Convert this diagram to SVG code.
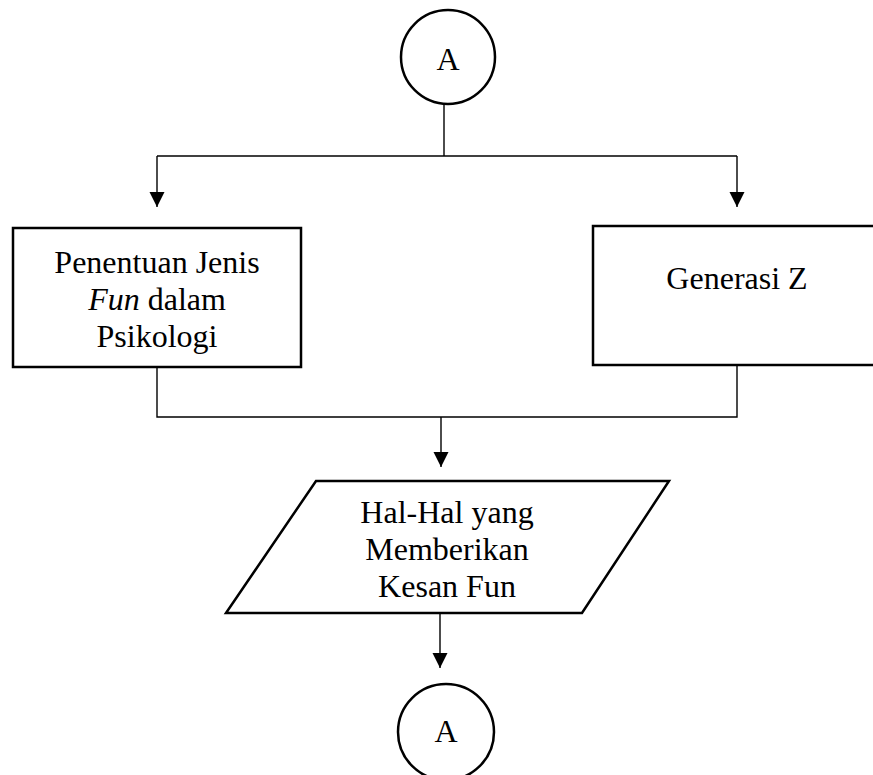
<svg xmlns="http://www.w3.org/2000/svg" width="873" height="775" viewBox="0 0 873 775">
<style>
.shape{fill:#fff;stroke:#000;stroke-width:2.5}
.conn{fill:none;stroke:#000;stroke-width:1.4}
text{font-family:"Liberation Serif","Times New Roman",serif;font-size:32px;fill:#000;text-anchor:middle}
</style>
<defs>
<marker id="arr" markerUnits="userSpaceOnUse" markerWidth="16" markerHeight="16" viewBox="0 0 16 16" refX="15" refY="8" orient="auto">
<path d="M0,0.5 L15,8 L0,15.5 Z" fill="#000"/>
</marker>
</defs>
<g id="connectors">
<path class="conn" d="M444,104 V156"/>
<path class="conn" d="M157,156 H737"/>
<path class="conn" d="M157,156 V207" marker-end="url(#arr)"/>
<path class="conn" d="M737,156 V207" marker-end="url(#arr)"/>
<path class="conn" d="M157,367 V417 H737 V365"/>
<path class="conn" d="M441,417 V467" marker-end="url(#arr)"/>
<path class="conn" d="M440,613 V668" marker-end="url(#arr)"/>
</g>
<g id="startA">
<circle class="shape" cx="448" cy="57" r="47" stroke-width="2.2"/>
<text x="448" y="70">A</text>
</g>
<g id="penentuan">
<rect class="shape" x="13" y="228" width="288" height="139"/>
<text x="157" y="273">Penentuan Jenis</text>
<text x="157" y="310"><tspan font-style="italic">Fun</tspan> dalam</text>
<text x="157" y="347">Psikologi</text>
</g>
<g id="generasi">
<rect class="shape" x="593" y="226" width="290" height="139"/>
<text x="737" y="289">Generasi Z</text>
</g>
<g id="hal">
<polygon class="shape" points="316,481 669,481 582,613 226,613"/>
<text x="447" y="523">Hal-Hal yang</text>
<text x="447" y="560">Memberikan</text>
<text x="447" y="597">Kesan Fun</text>
</g>
<g id="endA">
<circle class="shape" cx="446" cy="732" r="48" stroke-width="2.2"/>
<text x="446" y="742">A</text>
</g>
</svg>
